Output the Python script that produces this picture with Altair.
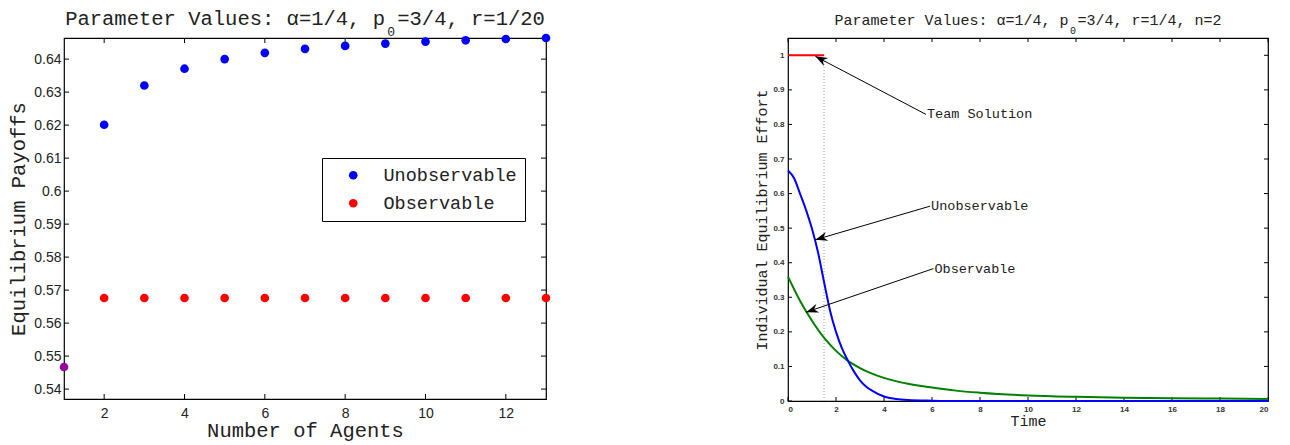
import math
import altair as alt
import pandas as pd

# ---------------- Left panel: equilibrium payoffs ----------------
agents = [2, 3, 4, 5, 6, 7, 8, 9, 10, 11, 12, 13]
unobservable_payoff = [0.6201, 0.6320, 0.6371, 0.6400, 0.6419, 0.6431,
                       0.6440, 0.6447, 0.6453, 0.6457, 0.6461, 0.6464]
observable_payoff = [0.5676, 0.5676, 0.5676, 0.5676, 0.5676, 0.5676,
                     0.5676, 0.5676, 0.5676, 0.5676, 0.5676, 0.5676]
single_agent_n = [1]
single_agent_payoff = [0.5467]
series_names = ["Unobservable", "Observable"]
left_x_ticks = [2, 4, 6, 8, 10, 12]
left_y_ticks = [0.54, 0.55, 0.56, 0.57, 0.58, 0.59, 0.60, 0.61, 0.62, 0.63, 0.64]
left_title_a = "Parameter Values: α=1/4, p"
left_title_b = "=3/4, r=1/20"
left_sub = "0"

# ---------------- Right panel: effort over time ----------------
time_unobs = [0, 0.25, 0.5, 0.75, 1.0, 1.25, 1.5, 1.75, 2.0, 2.25, 2.5, 2.75,
              3.0, 3.25, 3.5, 4.0, 4.5, 5.0, 6.0, 7.0, 10.0, 15.0, 20.0]
effort_unobs = [0.667, 0.645, 0.600, 0.553, 0.498, 0.430, 0.345, 0.262, 0.200, 0.152,
                0.116, 0.085, 0.060, 0.042, 0.030, 0.013, 0.006, 0.003, 0.001, 0.0,
                0.0, 0.0, 0.0]
time_obs = [0, 0.5, 1, 1.5, 2, 2.5, 3, 3.5, 4, 5, 6, 7, 8, 10, 12, 14, 16, 18, 20]
effort_obs = [0.360, 0.290, 0.232, 0.183, 0.145, 0.116, 0.095, 0.079, 0.067, 0.050,
              0.039, 0.030, 0.024, 0.016, 0.012, 0.0095, 0.008, 0.007, 0.006]
time_team = [0, 1.5]
effort_team = [1.0, 1.0]
switch_time = [1.5]
right_x_ticks = [0, 2, 4, 6, 8, 10, 12, 14, 16, 18, 20]
right_y_ticks = [0, 0.1, 0.2, 0.3, 0.4, 0.5, 0.6, 0.7, 0.8, 0.9, 1.0]
right_title_a = "Parameter Values: α=1/4, p"
right_title_b = "=3/4, r=1/4, n=2"
right_sub = "0"

ann_labels = ["Team Solution", "Unobservable", "Observable"]
ann_text_t = [5.75, 5.92, 6.06]
ann_text_v = [0.829, 0.5636, 0.383]
ann_tip_t = [1.14, 1.14, 0.76]
ann_tip_v = [0.997, 0.4664, 0.257]

MONO = "Liberation Mono"
SANS = "Liberation Sans"


def title_parts(part_a, part_b, sub, width, fs, sub_fs, y_main, y_sub):
    """Three text marks: main text, subscript cell, rest of main text."""
    cw = 0.6 * fs
    n = len(part_a) + 1 + len(part_b)
    start = width / 2 - n * cw / 2
    a = alt.Chart(pd.DataFrame({"label": [part_a]})).mark_text(
        font=MONO, fontSize=fs, align="left", baseline="alphabetic", color="#222").encode(
        text="label:N", x=alt.value(start), y=alt.value(y_main))
    s = alt.Chart(pd.DataFrame({"label": [sub]})).mark_text(
        font=MONO, fontSize=sub_fs, align="center", baseline="alphabetic", color="#222").encode(
        text="label:N", x=alt.value(start + (len(part_a) + 0.5) * cw), y=alt.value(y_sub))
    b = alt.Chart(pd.DataFrame({"label": [part_b]})).mark_text(
        font=MONO, fontSize=fs, align="left", baseline="alphabetic", color="#222").encode(
        text="label:N", x=alt.value(start + (len(part_a) + 1) * cw), y=alt.value(y_main))
    return [a, s, b]


# ================= LEFT CHART =================
LW, LH = 482, 361
LT = 5  # tick length
xs_l = alt.Scale(domain=[1, 13], nice=False, zero=False)
ys_l = alt.Scale(domain=[0.537, 0.6464], nice=False, zero=False)
ax_lx = alt.Axis(values=left_x_ticks, title="Number of Agents", domain=False, ticks=False,
                 tickSize=0, grid=False, labelFont=SANS, labelFontSize=14, labelColor="#222",
                 labelPadding=7, titleFont=MONO, titleFontSize=20.5, titleFontWeight="normal",
                 titleColor="#222", titlePadding=0)
ax_ly = alt.Axis(values=left_y_ticks, format="~g", title="Equilibrium Payoffs", domain=False,
                 ticks=False, tickSize=0, grid=False, labelFont=SANS, labelFontSize=14,
                 labelColor="#222", labelPadding=3, titleFont=MONO, titleFontSize=20.5,
                 titleFontWeight="normal", titleColor="#222", titlePadding=5)
lx = alt.X("x:Q", scale=xs_l, axis=ax_lx)
ly = alt.Y("y:Q", scale=ys_l, axis=ax_ly)

pts_df = pd.DataFrame({
    "x": agents + agents,
    "y": unobservable_payoff + observable_payoff,
    "series": [series_names[0]] * len(agents) + [series_names[1]] * len(agents),
})
points = alt.Chart(pts_df).mark_circle(size=75, opacity=1).encode(
    x=lx, y=ly,
    color=alt.Color("series:N",
                    scale=alt.Scale(domain=series_names, range=["#0000ff", "#ff0000"]),
                    legend=alt.Legend(title=None, orient="none", legendX=258, legendY=120,
                                      direction="vertical", fillColor="white",
                                      strokeColor="black", padding=8, symbolType="circle",
                                      symbolSize=75, symbolOffset=14, labelOffset=21,
                                      labelFont=MONO, labelFontSize=18.5, labelColor="#222",
                                      rowPadding=9, symbolStrokeWidth=0, labelLimit=300)),
)
single = alt.Chart(pd.DataFrame({"x": single_agent_n, "y": single_agent_payoff})).mark_circle(
    size=75, opacity=1, color="#990099").encode(x=lx, y=ly)

txl = pd.DataFrame({"x": left_x_ticks})
tyl = pd.DataFrame({"y": left_y_ticks})
l_ticks = [
    alt.Chart(txl).mark_rule(color="black", strokeWidth=1).encode(x=lx, y=alt.value(LH), y2=alt.value(LH - LT)),
    alt.Chart(txl).mark_rule(color="black", strokeWidth=1).encode(x=lx, y=alt.value(0), y2=alt.value(LT)),
    alt.Chart(tyl).mark_rule(color="black", strokeWidth=1).encode(y=ly, x=alt.value(0), x2=alt.value(LT)),
    alt.Chart(tyl).mark_rule(color="black", strokeWidth=1).encode(y=ly, x=alt.value(LW), x2=alt.value(LW - LT)),
]

l_title = title_parts(left_title_a, left_title_b, left_sub, LW, 20.5, 13, -13, -2.5)

left_chart = alt.layer(*l_ticks, points, single, *l_title).properties(width=LW, height=LH)

# ================= RIGHT CHART =================
RW, RH = 480, 363
RT = 4
xs_r = alt.Scale(domain=[0, 20], nice=False, zero=False)
ys_r = alt.Scale(domain=[0, 1.05], nice=False, zero=False)
ax_rx = alt.Axis(values=right_x_ticks, title="Time", domain=False, ticks=False, tickSize=0,
                 grid=False, labelFont=SANS, labelFontSize=8, labelFontWeight="bold",
                 labelColor="#333", labelPadding=4.5, titleFont=MONO, titleFontSize=15,
                 titleFontWeight="normal", titleColor="#222", titlePadding=0)
ax_ry = alt.Axis(values=right_y_ticks, format="~g", title="Individual Equilibrium Effort",
                 domain=False, ticks=False, tickSize=0, grid=False, labelFont=SANS,
                 labelFontSize=8, labelFontWeight="bold", labelColor="#333", labelPadding=4,
                 titleFont=MONO, titleFontSize=15, titleFontWeight="normal", titleColor="#222",
                 titlePadding=3)
rx = alt.X("x:Q", scale=xs_r, axis=ax_rx)
ry = alt.Y("y:Q", scale=ys_r, axis=ax_ry)

txr = pd.DataFrame({"x": right_x_ticks})
tyr = pd.DataFrame({"y": right_y_ticks})
r_ticks = [
    alt.Chart(txr).mark_rule(color="black", strokeWidth=1).encode(x=rx, y=alt.value(RH), y2=alt.value(RH - RT)),
    alt.Chart(txr).mark_rule(color="black", strokeWidth=1).encode(x=rx, y=alt.value(0), y2=alt.value(RT)),
    alt.Chart(tyr).mark_rule(color="black", strokeWidth=1).encode(y=ry, x=alt.value(0), x2=alt.value(RT)),
    alt.Chart(tyr).mark_rule(color="black", strokeWidth=1).encode(y=ry, x=alt.value(RW), x2=alt.value(RW - RT)),
]

dotted = alt.Chart(pd.DataFrame({"x": switch_time, "y": [0.0], "y2": [1.0]})).mark_rule(
    color="#a0a0a0", strokeWidth=1, strokeDash=[1, 2]).encode(x=rx, y=ry, y2="y2:Q")

unobs_line = alt.Chart(pd.DataFrame({"x": time_unobs, "y": effort_unobs})).mark_line(
    color="#0000ff", strokeWidth=2, interpolate="monotone").encode(x=rx, y=ry)
obs_line = alt.Chart(pd.DataFrame({"x": time_obs, "y": effort_obs})).mark_line(
    color="#008000", strokeWidth=2, interpolate="monotone").encode(x=rx, y=ry)
team_line = alt.Chart(pd.DataFrame({"x": time_team, "y": effort_team})).mark_line(
    color="#ff0000", strokeWidth=2).encode(x=rx, y=ry)

px_t = RW / 20.0
px_v = RH / 1.05
angles = []
for st, sv, tt, tv in zip(ann_text_t, ann_text_v, ann_tip_t, ann_tip_v):
    dx = (tt - st) * px_t
    dy = -(tv - sv) * px_v
    angles.append(math.degrees(math.atan2(dx, -dy)) % 360)

ann_df = pd.DataFrame({"x": ann_text_t, "y": ann_text_v, "x2": ann_tip_t, "y2": ann_tip_v,
                       "tx": ann_tip_t, "ty": ann_tip_v, "angle": angles, "label": ann_labels})
arrow_lines = alt.Chart(ann_df).mark_rule(color="black", strokeWidth=1).encode(
    x=rx, y=ry, x2="x2:Q", y2="y2:Q")
arrow_heads = alt.Chart(ann_df).mark_point(
    shape="M0,0 L0.6,1.6 L0,1.1 L-0.6,1.6 Z", filled=True, color="black", opacity=1,
    size=230).encode(
    x=alt.X("tx:Q", scale=xs_r, axis=ax_rx), y=alt.Y("ty:Q", scale=ys_r, axis=ax_ry),
    angle=alt.Angle("angle:Q", scale=None))
ann_text = alt.Chart(ann_df).mark_text(
    font=MONO, fontSize=13.5, align="left", baseline="middle", dx=1, color="#222").encode(
    x=rx, y=ry, text="label:N")

r_title = title_parts(right_title_a, right_title_b, right_sub, RW, 15, 10, -13, -4.5)

right_chart = alt.layer(*r_ticks, dotted, obs_line, unobs_line, team_line,
                        arrow_lines, arrow_heads, ann_text, *r_title).properties(
    width=RW, height=RH)

chart = alt.hconcat(left_chart, right_chart, spacing=242, bounds="flush").properties(
    padding=0, background="white"
).configure_view(stroke="black", strokeWidth=1.2)

chart.save("out.html", embed_options={"renderer": "svg", "actions": False})
